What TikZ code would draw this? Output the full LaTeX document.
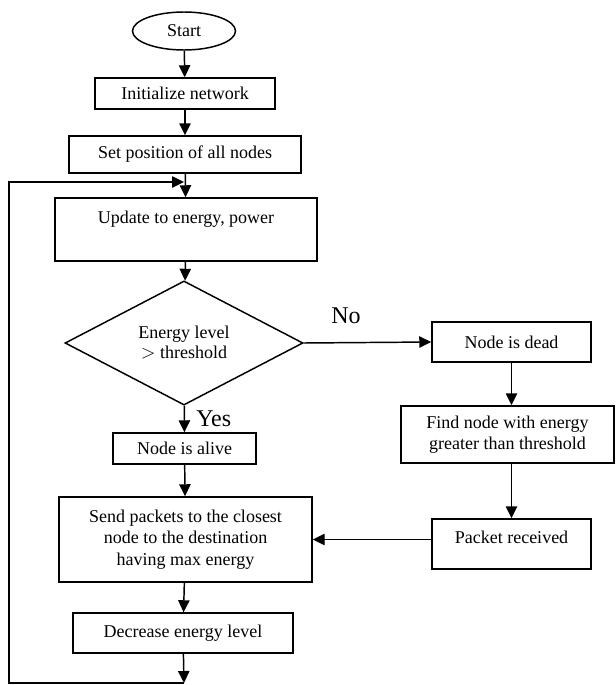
\documentclass[tikz,border=0pt]{standalone}
\usepackage{fontspec}
\setmainfont{Liberation Serif}
\usetikzlibrary{shapes.geometric, arrows.meta}
\tikzset{
  box/.style={draw, line width=1.1pt, inner sep=0, align=center,
    font=\fontsize{13.5}{16}\selectfont},
  terminal/.style={ellipse, draw, line width=1.1pt, inner sep=0,
    font=\fontsize{13.5}{16}\selectfont},
  decision/.style={diamond, draw, line width=1.1pt, inner sep=0, align=center,
    font=\fontsize{13.5}{15}\selectfont},
  flow/.style={-{Triangle[length=9pt,width=8.5pt]}, line width=1.1pt},
  tag/.style={inner sep=0, font=\fontsize{18}{20}\selectfont}
}

\begin{document}
\begin{tikzpicture}[x=0.75pt, y=-0.75pt]
\useasboundingbox (0,0) rectangle (615,685);

% main column
\node [terminal, minimum width=77.25pt, minimum height=28.5pt] (start) at (184,31) {Start};
\node [box, minimum width=135pt, minimum height=23.25pt] (init) at (185,93.5) {Initialize network};
\node [box, minimum width=174pt, minimum height=27.75pt] (setpos) at (185,154.5) {Set position of all nodes};
\node [box, minimum width=196.5pt, text height=18.75pt, text depth=28.5pt] (update) at (186,229.5) {Update to energy, power};
\node [decision, minimum width=178.5pt, minimum height=72pt] (check) at (184,343) {Energy level\\ $>$ threshold};
\node [box, minimum width=107.25pt, minimum height=23.25pt] (alive) at (184.5,448.5) {Node is alive};
\node [box, minimum width=189.75pt, minimum height=63.75pt] (send) at (185.5,539.5) {Send packets to the closest\\ node to the destination\\ having max energy};
\node [box, minimum width=165pt, minimum height=30pt] (decrease) at (183,633) {Decrease energy level};

% right column
\node [box, minimum width=119.25pt, minimum height=30pt] (dead) at (511.5,342) {Node is dead};
\node [box, minimum width=159.75pt, minimum height=42.75pt] (find) at (507.5,434.5) {Find node with energy\\ greater than threshold};
\node [box, minimum width=119.25pt, text height=18pt, text depth=19.5pt] (received) at (511.5,544) {Packet received};

\node [tag, anchor=west] (yes) at (196,419) {Yes};
\node [tag] (no) at (346,316) {No};

\coordinate (loopin) at (184,182);
\coordinate (loopbot) at (184,683);
\coordinate (loopleft) at (9,683);

\draw [flow] (start) -- (init);
\draw [flow] (init) -- (setpos);
\draw [flow] (setpos) -- (update);
\draw [flow] (update) -- (check);
\draw [flow] (check) -- (alive);
\draw [flow] (alive) -- (send);
\draw [flow] (send) -- (decrease);
\draw [flow] (decrease) -- (loopbot);
\draw [flow] (loopbot) -- (loopleft) |- (loopin);

\draw [flow] (check.east) -- (dead.west);
\draw [flow] (dead.south) -- (dead.south |- find.north);
\draw [flow] (find.south -| received.north) -- (received.north);
\draw [flow] (send.east -| received.west) -- (send.east);

\end{tikzpicture}
\end{document}
